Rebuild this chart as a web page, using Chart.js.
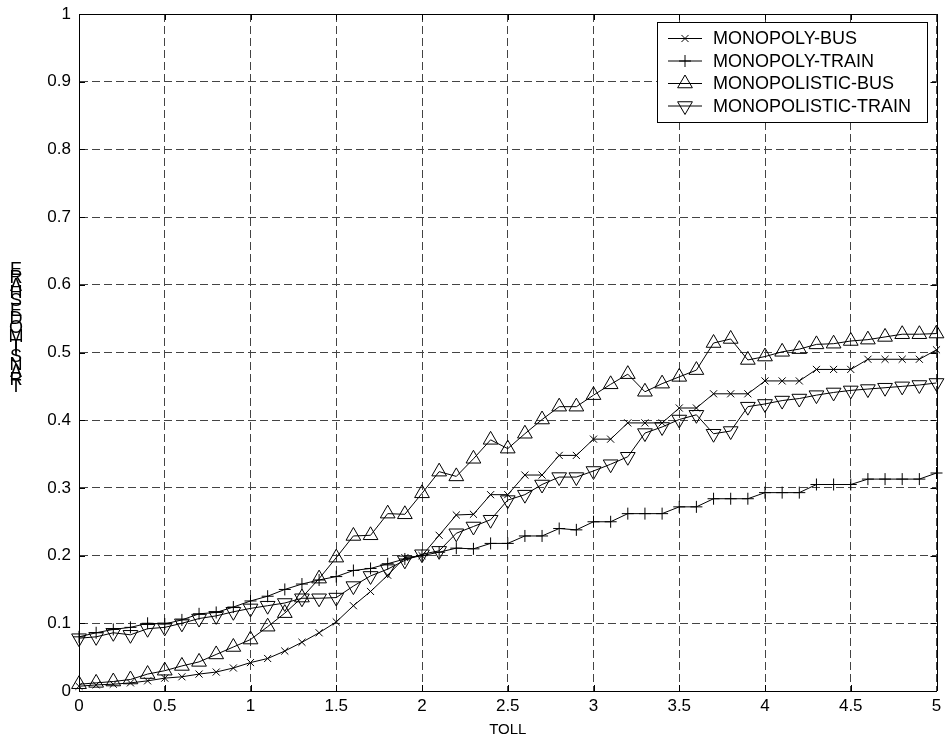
<!DOCTYPE html>
<html>
<head>
<meta charset="utf-8">
<script src="https://cdn.jsdelivr.net/npm/chart.js@4.4.1/dist/chart.umd.min.js"></script>
<style>
html, body { margin: 0; padding: 0; background: #fff; }
#wrap { width: 946px; height: 747px; }
</style>
</head>
<body>
<div id="wrap"><canvas id="chart" width="946" height="747"></canvas></div>
<script>
// toll values on the x axis
const toll = [0, 0.1, 0.2, 0.3, 0.4, 0.5, 0.6, 0.7, 0.8, 0.9,
              1, 1.1, 1.2, 1.3, 1.4, 1.5, 1.6, 1.7, 1.8, 1.9,
              2, 2.1, 2.2, 2.3, 2.4, 2.5, 2.6, 2.7, 2.8, 2.9,
              3, 3.1, 3.2, 3.3, 3.4, 3.5, 3.6, 3.7, 3.8, 3.9,
              4, 4.1, 4.2, 4.3, 4.4, 4.5, 4.6, 4.7, 4.8, 4.9, 5];

const monopolyBus = [0.007, 0.009, 0.010, 0.012, 0.015, 0.019, 0.021, 0.025, 0.028, 0.034,
                     0.042, 0.048, 0.059, 0.072, 0.086, 0.102, 0.126, 0.147, 0.171, 0.197,
                     0.200, 0.230, 0.260, 0.261, 0.290, 0.290, 0.319, 0.319, 0.348, 0.348,
                     0.372, 0.372, 0.396, 0.396, 0.396, 0.418, 0.418, 0.439, 0.439, 0.439,
                     0.458, 0.458, 0.458, 0.475, 0.475, 0.475, 0.490, 0.490, 0.490, 0.490, 0.504];

const monopolyTrain = [0.080, 0.086, 0.091, 0.094, 0.100, 0.099, 0.105, 0.114, 0.116, 0.124,
                       0.133, 0.140, 0.150, 0.158, 0.164, 0.169, 0.178, 0.181, 0.188, 0.195,
                       0.200, 0.205, 0.211, 0.210, 0.218, 0.218, 0.229, 0.229, 0.240, 0.238,
                       0.250, 0.250, 0.262, 0.262, 0.262, 0.272, 0.272, 0.284, 0.284, 0.284,
                       0.293, 0.293, 0.293, 0.305, 0.305, 0.305, 0.313, 0.313, 0.313, 0.313, 0.322];

const monopolisticBus = [0.010, 0.012, 0.014, 0.017, 0.025, 0.030, 0.037, 0.043, 0.054, 0.065,
                         0.076, 0.095, 0.115, 0.138, 0.166, 0.197, 0.229, 0.230, 0.262, 0.261,
                         0.292, 0.324, 0.317, 0.343, 0.371, 0.358, 0.380, 0.401, 0.420, 0.420,
                         0.437, 0.453, 0.468, 0.442, 0.454, 0.464, 0.474, 0.514, 0.520, 0.489,
                         0.494, 0.501, 0.505, 0.512, 0.513, 0.517, 0.519, 0.523, 0.527, 0.527, 0.528];

const monopolisticTrain = [0.078, 0.080, 0.086, 0.083, 0.092, 0.094, 0.100, 0.107, 0.111, 0.117,
                           0.122, 0.126, 0.130, 0.137, 0.137, 0.138, 0.155, 0.170, 0.180, 0.193,
                           0.202, 0.207, 0.233, 0.243, 0.253, 0.282, 0.290, 0.305, 0.316, 0.316,
                           0.325, 0.335, 0.346, 0.381, 0.390, 0.401, 0.408, 0.380, 0.384, 0.420,
                           0.424, 0.429, 0.432, 0.437, 0.441, 0.444, 0.446, 0.448, 0.450, 0.452, 0.455];

const seriesNames = ['MONOPOLY-BUS', 'MONOPOLY-TRAIN', 'MONOPOLISTIC-BUS', 'MONOPOLISTIC-TRAIN'];
const xTitle = 'TOLL';
const yTitle = 'TRANSIT MODE SHARE';

const FONT = "'Liberation Sans', Arial, sans-serif";

function pts(vals) {
    return vals.map(function (v, i) { return {x: toll[i], y: v}; });
}

function ds(label, vals, style, radius, rotation) {
    return {
        label: label,
        data: pts(vals),
        borderColor: '#000',
        borderWidth: 1,
        backgroundColor: 'rgba(0,0,0,0)',
        pointStyle: style,
        pointRadius: radius,
        pointRotation: rotation,
        pointBorderColor: '#000',
        pointBorderWidth: 1,
        pointBackgroundColor: 'rgba(0,0,0,0)',
        tension: 0,
        clip: false
    };
}

// plain number labels: 0, 0.5, 1 ...
function tickText(v) {
    return String(Math.round(v * 10) / 10);
}

// box, inner ticks, legend and the stacked y title
const decor = {
    id: 'decor',
    afterDraw(chart) {
        const ctx = chart.ctx;
        const a = chart.chartArea;
        const xs = chart.scales.x, ys = chart.scales.y;
        ctx.save();
        ctx.strokeStyle = '#000';
        ctx.lineWidth = 1;
        ctx.setLineDash([]);
        ctx.beginPath();
        ctx.moveTo(a.left, Math.round(a.top) + 0.5);
        ctx.lineTo(a.right, Math.round(a.top) + 0.5);
        ctx.moveTo(Math.round(a.right) + 0.5, a.top);
        ctx.lineTo(Math.round(a.right) + 0.5, a.bottom);
        xs.ticks.forEach(function (t) {
            const px = Math.round(xs.getPixelForValue(t.value)) + 0.5;
            ctx.moveTo(px, a.bottom); ctx.lineTo(px, a.bottom - 6);
            ctx.moveTo(px, a.top); ctx.lineTo(px, a.top + 6);
        });
        ys.ticks.forEach(function (t) {
            const py = Math.round(ys.getPixelForValue(t.value)) + 0.5;
            ctx.moveTo(a.left, py); ctx.lineTo(a.left + 6, py);
            ctx.moveTo(a.right, py); ctx.lineTo(a.right - 6, py);
        });
        ctx.stroke();

        // legend
        const lx = 657.5, ly = 22.5, lw = 270, lh = 100;
        ctx.fillStyle = '#fff';
        ctx.fillRect(lx, ly, lw, lh);
        ctx.strokeRect(lx, ly, lw, lh);
        chart.data.datasets.forEach(function (d, i) {
            const cy = 38.5 + i * 22.5;
            ctx.beginPath();
            ctx.moveTo(668, cy); ctx.lineTo(702, cy);
            ctx.stroke();
            ctx.fillStyle = 'rgba(0,0,0,0)';
            Chart.helpers.drawPoint(ctx, {
                pointStyle: d.pointStyle,
                radius: d.pointRadius,
                rotation: d.pointRotation,
                borderWidth: 1
            }, 685, cy);
            ctx.fillStyle = '#000';
            ctx.font = '18px ' + FONT;
            ctx.textAlign = 'left';
            ctx.textBaseline = 'middle';
            ctx.fillText(d.label, 713, cy + 1);
        });

        // y title: upright letters stacked bottom to top
        ctx.fillStyle = '#000';
        ctx.textAlign = 'center';
        ctx.textBaseline = 'alphabetic';
        let y = 392;
        for (const ch of yTitle) {
            ctx.font = '18px ' + FONT;
            ctx.fillText(ch, 16, y);
            ctx.font = '11px ' + FONT;
            y -= ctx.measureText(ch).width;
        }
        ctx.restore();
    }
};

const canvas = document.getElementById('chart');
new Chart(canvas.getContext('2d'), {
    type: 'line',
    data: {
        datasets: [
            ds(seriesNames[0], monopolyBus, 'crossRot', 5, 0),
            ds(seriesNames[1], monopolyTrain, 'cross', 6, 0),
            ds(seriesNames[2], monopolisticBus, 'triangle', 8.5, 0),
            ds(seriesNames[3], monopolisticTrain, 'triangle', 8.5, 180)
        ]
    },
    options: {
        responsive: false,
        animation: false,
        layout: {padding: {top: 14, right: 9, left: 0, bottom: 0}},
        plugins: {legend: {display: false}, tooltip: {enabled: false}},
        scales: {
            x: {
                type: 'linear', min: 0, max: 5,
                afterFit: function (s) { s.height = 56; s.paddingLeft = 0; s.paddingRight = 0; },
                ticks: {stepSize: 0.5, color: '#000', font: {family: FONT, size: 17}, padding: 5,
                    maxRotation: 0, autoSkip: false, callback: tickText},
                grid: {color: '#444', drawTicks: false, lineWidth: 1},
                border: {display: true, color: '#000', width: 1, dash: [8, 4]},
                title: {display: true, text: xTitle, color: '#000', font: {family: FONT, size: 15}, padding: {top: 0, bottom: 8}}
            },
            y: {
                min: 0, max: 1,
                afterFit: function (s) { s.width = 79; s.paddingTop = 0; s.paddingBottom = 0; },
                ticks: {stepSize: 0.1, color: '#000', font: {family: FONT, size: 17}, padding: 8, callback: tickText},
                grid: {color: '#444', drawTicks: false, lineWidth: 1},
                border: {display: true, color: '#000', width: 1, dash: [8, 4]}
            }
        }
    },
    plugins: [decor]
});
</script>
</body>
</html>
